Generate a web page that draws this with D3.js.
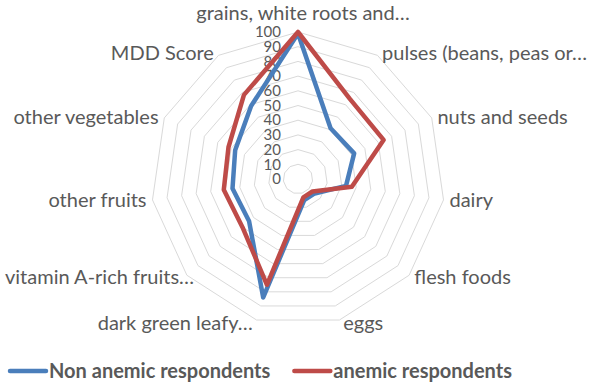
<!DOCTYPE html>
<html>
<head>
<meta charset="utf-8">
<script src="https://cdn.jsdelivr.net/npm/d3@7"></script>
<style>
  html, body { margin: 0; padding: 0; background: #fff; }
  svg text { font-family: Lato, "Open Sans", sans-serif; fill: #595959; }
</style>
</head>
<body>
<div id="chart"></div>
<script>
// data
const categories = [
    "grains, white roots and…",
    "pulses (beans, peas or…",
    "nuts and seeds",
    "dairy",
    "flesh foods",
    "eggs",
    "dark green leafy…",
    "vitamin A-rich fruits…",
    "other fruits",
    "other vegetables",
    "MDD Score"
];
const nonAnemic = [99, 41, 42, 33, 15, 15, 84, 44, 45, 47, 59];
const anemic = [100, 65, 64, 37, 13, 13, 75, 50, 51, 52, 68];
const ticks = [0, 10, 20, 30, 40, 50, 60, 70, 80, 90, 100];
const seriesNames = ["Non anemic respondents", "anemic respondents"];

const width = 598, height = 387;
const cx = 298, cy = 179, R = 147;
const colours = ["#4A7EBB", "#BE4B48"];

const svg = d3.select("#chart").append("svg")
    .attr("width", width)
    .attr("height", height);

const rScale = d3.scaleLinear().domain([0, 100]).range([0, R]);
const angle = d3.scaleLinear()
    .domain([0, categories.length])
    .range([0, 2 * Math.PI]);

const plot = svg.append("g")
    .attr("transform", `translate(${cx}, ${cy})`);

// grid rings
const ring = d3.lineRadial()
    .angle((d, i) => angle(i))
    .radius(d => rScale(d))
    .curve(d3.curveLinearClosed);

plot.append("g")
    .attr("class", "grid")
    .selectAll("path")
    .data(ticks.filter(t => t > 0))
    .join("path")
    .attr("d", t => ring(categories.map(() => t)))
    .attr("fill", "none")
    .attr("stroke", "#D9D9D9")
    .attr("stroke-width", 1);

// tick labels
plot.append("g")
    .attr("class", "ticks")
    .selectAll("text")
    .data(ticks)
    .join("text")
    .attr("x", -17)
    .attr("y", t => -rScale(t))
    .attr("dy", "0.35em")
    .attr("text-anchor", "end")
    .style("font-size", "15px")
    .text(t => t);

// category labels
const labelR = 150;
plot.append("g")
    .attr("class", "categories")
    .selectAll("text")
    .data(categories)
    .join("text")
    .style("font-size", "20px")
    .text(d => d)
    .each(function(d, i) {
	let a = angle(i);
	let s = Math.sin(a), c = Math.cos(a);
	let el = d3.select(this);
	let w = this.getComputedTextLength();
	let y = -c * labelR;
	if (Math.abs(s) < 0.2) y -= Math.sign(c) * 16;
	let x;
	if (Math.abs(s) < 0.1) {
	    x = s * labelR - w / 2 + 5;
	} else if (s > 0) {
	    x = s * labelR + 3;
	} else {
	    x = s * labelR - 3 - w;
	    if (cx + x < 5) x = 5 - cx;
	}
	el.attr("x", x).attr("y", y).attr("dy", "0.35em");
    });

// series
const seriesLine = d3.lineRadial()
    .angle((d, i) => angle(i))
    .radius(d => rScale(d))
    .curve(d3.curveLinearClosed);

plot.append("g")
    .attr("class", "series")
    .selectAll("path")
    .data([nonAnemic, anemic])
    .join("path")
    .attr("d", d => seriesLine(d))
    .attr("fill", "none")
    .attr("stroke", (d, i) => colours[i])
    .attr("stroke-width", 4.5)
    .attr("stroke-linejoin", "round");

// legend
const legend = svg.append("g")
    .attr("class", "legend")
    .attr("transform", `translate(10, 371)`);

let offset = 0;
seriesNames.forEach((name, i) => {
    let item = legend.append("g")
	.attr("transform", `translate(${offset}, 0)`);
    item.append("line")
	.attr("x1", 0).attr("x2", 36)
	.attr("y1", 0).attr("y2", 0)
	.attr("stroke", colours[i])
	.attr("stroke-width", 4.5)
	.attr("stroke-linecap", "round");
    let t = item.append("text")
	.attr("x", 39)
	.attr("dy", "0.35em")
	.style("font-size", "20px")
	.style("font-weight", "bold")
	.text(name);
    offset += 39 + t.node().getComputedTextLength() + 24;
});
</script>
</body>
</html>
